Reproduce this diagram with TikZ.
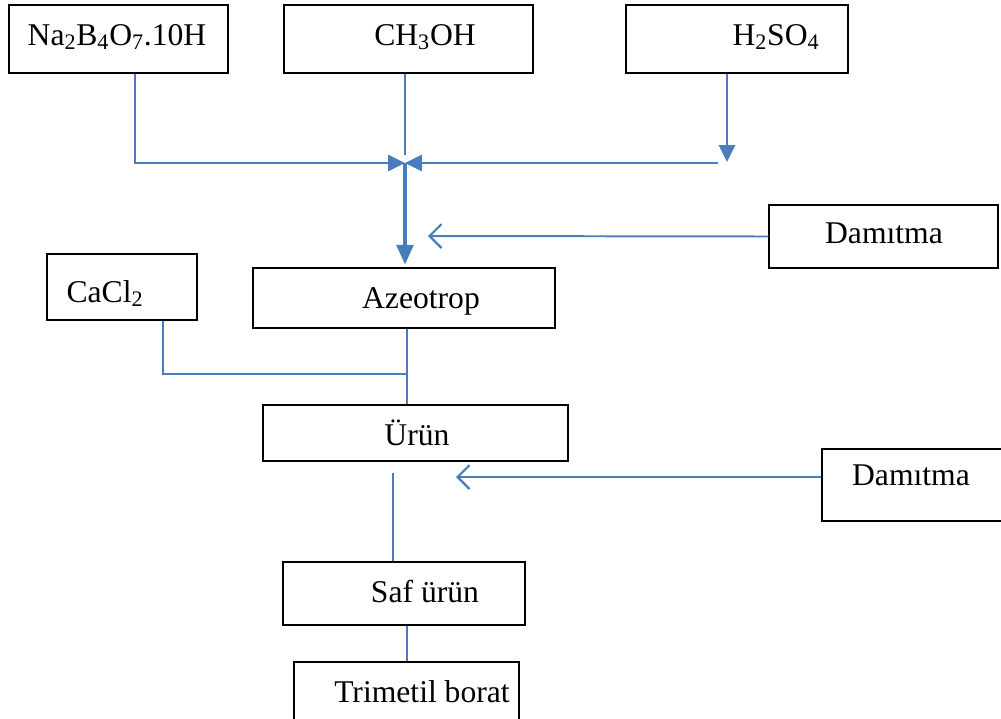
\documentclass[tikz,border=0pt]{standalone}
\usepackage{fontspec}
\setmainfont{Liberation Serif}
\usetikzlibrary{positioning,fit,arrows.meta}
\definecolor{flowblue}{RGB}{74,126,187}

\tikzset{
  box/.style={draw=black, line width=1pt, inner sep=0pt},
  lbl/.style={anchor=base, inner sep=0pt, font=\fontsize{22.5}{26}\selectfont},
  flow/.style={draw=flowblue, line width=1.4pt},
  tip/.style={flow, -{Triangle[length=12pt,width=11.5pt]}},
  bigtip/.style={flow, line width=2.3pt, -{Triangle[length=14pt,width=12pt]}},
  feed/.style={flow, -{Straight Barb[length=8.5pt,width=17pt,line width=1.6pt]}}
}

\begin{document}
\begin{tikzpicture}[x=0.025cm, y=-0.025cm]
        \useasboundingbox (0,0) rectangle (1001,718);

        % boxes
        \node[box, fit={(9,5) (228,73)}] (na) {};
        \node[box, fit={(284,5) (533,73)}] (ch) {};
        \node[box, fit={(626,5) (848,73)}] (h2) {};
        \node[box, fit={(769,205) (998,268)}] (d1) {};
        \node[box, fit={(47,254) (197,320)}] (ca) {};
        \node[box, fit={(253,268) (555,328)}] (az) {};
        \node[box, fit={(263,405) (568,461)}] (ur) {};
        \node[box, fit={(822,449) (1003,521)}] (d2) {};
        \node[box, fit={(283,562) (525,625)}] (saf) {};
        \node[box, fit={(294,662) (519,722)}] (tb) {};

        % texts
        \node[lbl] (na-t) at (117,45) {Na\textsubscript{2}B\textsubscript{4}O\textsubscript{7}.10H};
        \node[lbl] (ch-t) at (425,45) {CH\textsubscript{3}OH};
        \node[lbl] (h2-t) at (776,45) {H\textsubscript{2}SO\textsubscript{4}};
        \node[lbl] (d1-t) at (884,243) {Damıtma};
        \node[lbl] (ca-t) at (105,302) {CaCl\textsubscript{2}};
        \node[lbl] (az-t) at (421,308) {Azeotrop};
        \node[lbl] (ur-t) at (417,445) {Ürün};
        \node[lbl] (d2-t) at (911,485) {Damıtma};
        \node[lbl] (saf-t) at (425,602) {Saf ürün};
        \node[lbl] (tb-t) at (422,702) {Trimetil borat};

        % junctions
        \coordinate (jl) at (135,163);
        \coordinate (jc) at (405,163);
        \coordinate (jr) at (718,163);
        \coordinate (chend) at (405,155);
        \coordinate (jh) at (727,162);
        \coordinate (d1in) at (428,236);
        \coordinate (jcl) at (163,374);
        \coordinate (jca) at (407,374);
        \coordinate (urout) at (393,473);
        \coordinate (d2in) at (456,477);

        % lines
        \draw[tip] (na.south -| jl) -- (jl) -- (jc);
        \draw[flow] (ch.south -| chend) -- (chend);
        \draw[tip] (jr) -- (jc);
        \draw[tip] (h2.south -| jh) -- (jh);
        \draw[bigtip, shorten >=2pt] (jc) -- (az.north -| jc);
        \draw[feed] (d1.west) -- (d1in);
        \draw[flow] (ca.south -| jcl) -- (jcl) -- (jca);
        \draw[flow] (az.south -| jca) -- (ur.north -| jca);
        \draw[flow] (urout) -- (saf.north -| urout);
        \draw[feed] (d2.west |- d2in) -- (d2in);
        \draw[flow] (saf.south -| jca) -- (tb.north -| jca);
    \end{tikzpicture}
\end{document}
